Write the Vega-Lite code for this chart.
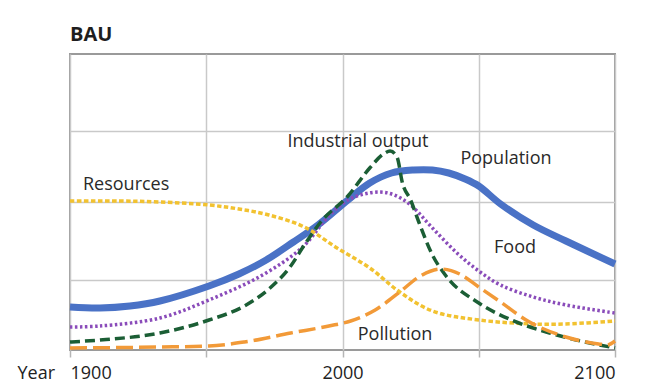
{
  "$schema": "https://vega.github.io/schema/vega-lite/v6.json",
  "width": 545,
  "height": 296,
  "autosize": "none",
  "padding": {"left": 70, "top": 54, "right": 52, "bottom": 38},
  "background": "white",
  "config": {
    "font": "Open Sans",
    "view": {"stroke": "#9a9a9a", "strokeWidth": 2}
  },
  "title": {
    "text": "BAU",
    "anchor": "start",
    "frame": "group",
    "fontSize": 20,
    "fontWeight": "bold",
    "font": "Open Sans",
    "color": "#1e1e1e",
    "baseline": "alphabetic",
    "offset": -7
  },
  "datasets": {
    "lines": [
      {"series": "Population", "year": 1900, "value": 43},
      {"series": "Population", "year": 1911, "value": 42},
      {"series": "Population", "year": 1922, "value": 44},
      {"series": "Population", "year": 1933, "value": 49},
      {"series": "Population", "year": 1951, "value": 64},
      {"series": "Population", "year": 1962, "value": 76},
      {"series": "Population", "year": 1972, "value": 90},
      {"series": "Population", "year": 1982, "value": 108},
      {"series": "Population", "year": 1991, "value": 125},
      {"series": "Population", "year": 2002, "value": 150},
      {"series": "Population", "year": 2010, "value": 167},
      {"series": "Population", "year": 2018, "value": 177},
      {"series": "Population", "year": 2026, "value": 180},
      {"series": "Population", "year": 2033, "value": 180},
      {"series": "Population", "year": 2039, "value": 177},
      {"series": "Population", "year": 2045, "value": 171},
      {"series": "Population", "year": 2050, "value": 164},
      {"series": "Population", "year": 2058, "value": 146},
      {"series": "Population", "year": 2070, "value": 125},
      {"series": "Population", "year": 2082, "value": 109},
      {"series": "Population", "year": 2100, "value": 86},

      {"series": "Food", "year": 1900, "value": 23},
      {"series": "Food", "year": 1911, "value": 24},
      {"series": "Food", "year": 1933, "value": 32},
      {"series": "Food", "year": 1951, "value": 50},
      {"series": "Food", "year": 1970, "value": 74},
      {"series": "Food", "year": 1985, "value": 102},
      {"series": "Food", "year": 1995, "value": 134},
      {"series": "Food", "year": 2002, "value": 150},
      {"series": "Food", "year": 2008, "value": 156},
      {"series": "Food", "year": 2014, "value": 158},
      {"series": "Food", "year": 2019, "value": 155},
      {"series": "Food", "year": 2025, "value": 145},
      {"series": "Food", "year": 2033, "value": 122},
      {"series": "Food", "year": 2042, "value": 97},
      {"series": "Food", "year": 2050, "value": 79},
      {"series": "Food", "year": 2058, "value": 65},
      {"series": "Food", "year": 2070, "value": 53},
      {"series": "Food", "year": 2082, "value": 45},
      {"series": "Food", "year": 2100, "value": 37},

      {"series": "Resources", "year": 1900, "value": 149},
      {"series": "Resources", "year": 1918, "value": 149},
      {"series": "Resources", "year": 1933, "value": 148},
      {"series": "Resources", "year": 1951, "value": 145},
      {"series": "Resources", "year": 1962, "value": 141},
      {"series": "Resources", "year": 1973, "value": 135},
      {"series": "Resources", "year": 1986, "value": 123},
      {"series": "Resources", "year": 1998, "value": 102},
      {"series": "Resources", "year": 2010, "value": 82},
      {"series": "Resources", "year": 2021, "value": 58},
      {"series": "Resources", "year": 2033, "value": 39},
      {"series": "Resources", "year": 2050, "value": 30},
      {"series": "Resources", "year": 2070, "value": 26},
      {"series": "Resources", "year": 2082, "value": 26},
      {"series": "Resources", "year": 2100, "value": 29},

      {"series": "Industrial output", "year": 1900, "value": 8},
      {"series": "Industrial output", "year": 1911, "value": 10},
      {"series": "Industrial output", "year": 1933, "value": 17},
      {"series": "Industrial output", "year": 1951, "value": 30},
      {"series": "Industrial output", "year": 1964, "value": 44},
      {"series": "Industrial output", "year": 1973, "value": 61},
      {"series": "Industrial output", "year": 1981, "value": 84},
      {"series": "Industrial output", "year": 1986, "value": 105},
      {"series": "Industrial output", "year": 1992, "value": 128},
      {"series": "Industrial output", "year": 2002, "value": 154},
      {"series": "Industrial output", "year": 2010, "value": 182},
      {"series": "Industrial output", "year": 2015, "value": 196},
      {"series": "Industrial output", "year": 2017.5, "value": 199},
      {"series": "Industrial output", "year": 2020, "value": 193},
      {"series": "Industrial output", "year": 2022, "value": 167},
      {"series": "Industrial output", "year": 2025, "value": 150},
      {"series": "Industrial output", "year": 2028, "value": 128},
      {"series": "Industrial output", "year": 2033, "value": 95},
      {"series": "Industrial output", "year": 2038, "value": 74},
      {"series": "Industrial output", "year": 2050, "value": 47},
      {"series": "Industrial output", "year": 2062, "value": 30},
      {"series": "Industrial output", "year": 2076, "value": 17},
      {"series": "Industrial output", "year": 2100, "value": 2},

      {"series": "Pollution", "year": 1900, "value": 2},
      {"series": "Pollution", "year": 1933, "value": 3},
      {"series": "Pollution", "year": 1951, "value": 4},
      {"series": "Pollution", "year": 1964, "value": 8},
      {"series": "Pollution", "year": 1981, "value": 17},
      {"series": "Pollution", "year": 1995, "value": 24},
      {"series": "Pollution", "year": 2003, "value": 29},
      {"series": "Pollution", "year": 2012, "value": 40},
      {"series": "Pollution", "year": 2021, "value": 58},
      {"series": "Pollution", "year": 2028, "value": 73},
      {"series": "Pollution", "year": 2036, "value": 81},
      {"series": "Pollution", "year": 2043, "value": 76},
      {"series": "Pollution", "year": 2050, "value": 63},
      {"series": "Pollution", "year": 2058, "value": 48},
      {"series": "Pollution", "year": 2068, "value": 29},
      {"series": "Pollution", "year": 2082, "value": 13},
      {"series": "Pollution", "year": 2094, "value": 6},
      {"series": "Pollution", "year": 2097, "value": 5},
      {"series": "Pollution", "year": 2100, "value": 9}
    ],
    "labels": [
      {"label": "Industrial output", "year": 2005.7, "value": 203},
      {"label": "Population", "year": 2060, "value": 186},
      {"label": "Resources", "year": 1920.6, "value": 160},
      {"label": "Food", "year": 2063.3, "value": 97},
      {"label": "Pollution", "year": 2019.3, "value": 10}
    ]
  },
  "encoding": {
    "x": {
      "field": "year",
      "type": "quantitative",
      "scale": {"domain": [1900, 2100], "nice": false, "zero": false},
      "axis": {
        "values": [1900, 1950, 2000, 2050, 2100],
        "labelExpr": "datum.value == 1950 || datum.value == 2050 ? '' : datum.label",
        "format": "d",
        "labelFlush": true,
        "labelFontSize": 18,
        "labelFont": "Open Sans",
        "labelColor": "#222",
        "labelBaseline": "alphabetic",
        "labelPadding": 21,
        "tickSize": 7,
        "tickColor": "#b5b5b5",
        "tickWidth": 1.5,
        "domain": false,
        "grid": true,
        "gridColor": "#c9c9c9",
        "gridWidth": 1.5,
        "title": "Year",
        "titleFont": "Open Sans",
        "titleFontSize": 18,
        "titleFontWeight": "normal",
        "titleColor": "#222",
        "titleAlign": "left",
        "titleBaseline": "alphabetic",
        "titleX": -53,
        "titleY": 28
      }
    },
    "y": {
      "field": "value",
      "type": "quantitative",
      "scale": {"domain": [0, 296], "nice": false},
      "axis": {
        "values": [70, 148, 219],
        "grid": true,
        "gridColor": "#c9c9c9",
        "gridWidth": 1.5,
        "labels": false,
        "ticks": false,
        "domain": false,
        "title": null
      }
    }
  },
  "layer": [
    {
      "data": {"name": "lines"},
      "transform": [{"filter": "datum.series == 'Population'"}],
      "mark": {"type": "line", "interpolate": "catmull-rom", "color": "#4a72c6", "strokeWidth": 7, "strokeCap": "butt"}
    },
    {
      "data": {"name": "lines"},
      "transform": [{"filter": "datum.series == 'Food'"}],
      "mark": {"type": "line", "interpolate": "catmull-rom", "color": "#8a4cba", "strokeWidth": 3.5, "strokeDash": [2.5, 2.5], "strokeCap": "butt"}
    },
    {
      "data": {"name": "lines"},
      "transform": [{"filter": "datum.series == 'Resources'"}],
      "mark": {"type": "line", "interpolate": "catmull-rom", "color": "#f2c230", "strokeWidth": 3.5, "strokeDash": [4.5, 2.5], "strokeCap": "butt"}
    },
    {
      "data": {"name": "lines"},
      "transform": [{"filter": "datum.series == 'Industrial output'"}],
      "mark": {"type": "line", "interpolate": "monotone", "color": "#1b5e35", "strokeWidth": 3.5, "strokeDash": [10, 5], "strokeCap": "butt"}
    },
    {
      "data": {"name": "lines"},
      "transform": [{"filter": "datum.series == 'Pollution'"}],
      "mark": {"type": "line", "interpolate": "monotone", "color": "#f29a38", "strokeWidth": 3.5, "strokeDash": [17, 6], "strokeCap": "butt"}
    },
    {
      "data": {"name": "labels"},
      "mark": {"type": "text", "font": "Open Sans", "fontSize": 18, "color": "#2a2a2a", "align": "center", "baseline": "alphabetic"},
      "encoding": {"text": {"field": "label", "type": "nominal"}}
    }
  ]
}
